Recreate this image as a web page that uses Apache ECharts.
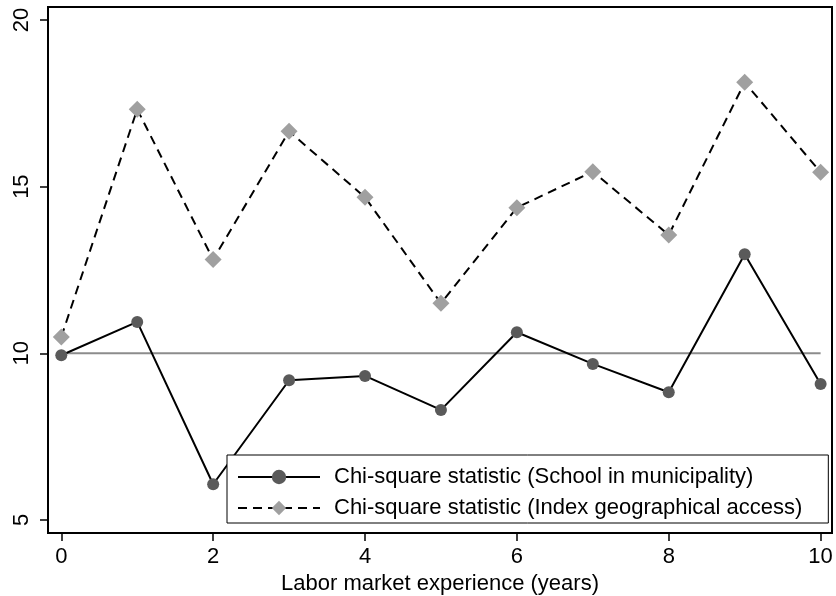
<!DOCTYPE html>
<html><head><meta charset="utf-8">
<script src="https://cdn.jsdelivr.net/npm/echarts@6/dist/echarts.min.js"></script>
<style>html,body{margin:0;padding:0;background:#fff}#c{width:836px;height:596px}</style>
</head><body><div id="c"></div>
<script>
const experience = [0,1,2,3,4,5,6,7,8,9,10];
const chiSchool = [9.94,10.94,6.07,9.19,9.32,8.30,10.63,9.68,8.83,12.97,9.08];
const chiIndex = [10.49,17.32,12.81,16.66,14.68,11.50,14.37,15.45,13.55,18.13,15.43];
const refLineY = 10;
const xTicks = [0,2,4,6,8,10];
const yTicks = [5,10,15,20];
const seriesNames = ['Chi-square statistic (School in municipality)','Chi-square statistic (Index geographical access)'];
const xTitle = 'Labor market experience (years)';

const FONT = '"Liberation Sans", Arial, sans-serif';
const chart = echarts.init(document.getElementById('c'), null, {renderer:'canvas'});
chart.setOption({
  animation:false,
  backgroundColor:'#fff',
  grid:{left:48,top:7,right:4,bottom:63,containLabel:false,outerBoundsMode:'none',
    show:true,borderColor:'#000',borderWidth:2,backgroundColor:'transparent'},
  xAxis:{type:'value',min:-0.175,max:10.15,
    name:xTitle,nameLocation:'middle',nameGap:37,
    nameTextStyle:{fontFamily:FONT,fontSize:22,color:'#000'},
    axisLine:{show:true,onZero:false,lineStyle:{color:'#000',width:2}},
    axisTick:{show:true,length:8,lineStyle:{color:'#000',width:1.5},customValues:xTicks},
    axisLabel:{fontFamily:FONT,fontSize:22,color:'#000',margin:13,customValues:xTicks},
    splitLine:{show:false}},
  yAxis:{type:'value',min:4.607,max:20.39,
    axisLine:{show:true,onZero:false,lineStyle:{color:'#000',width:2}},
    axisTick:{show:true,length:8,lineStyle:{color:'#000',width:1.5},customValues:yTicks},
    axisLabel:{fontFamily:FONT,fontSize:22,color:'#000',margin:15,rotate:90,customValues:yTicks},
    splitLine:{show:false}},
  legend:{
    data:seriesNames,
    orient:'vertical',left:227,top:455,
    backgroundColor:'#fff',borderColor:'#000',borderWidth:1,
    padding:[11,26,4,10],
    itemWidth:82,itemHeight:18,itemGap:9,
    textStyle:{fontFamily:FONT,fontSize:22,color:'#000',lineHeight:22,padding:[0,0,0,9]}
  },
  series:[
    {type:'line',name:'ref',data:[[experience[0],refLineY],[experience[experience.length-1],refLineY]],
     showSymbol:false,symbol:'none',lineStyle:{color:'#8c8c8c',width:2},silent:true,z:1},
    {type:'line',name:seriesNames[0],data:experience.map((x,i)=>[x,chiSchool[i]]),
     symbol:'circle',symbolSize:12,
     itemStyle:{color:'#5a5a5a'},lineStyle:{color:'#000',width:2},z:3},
    {type:'line',name:seriesNames[1],data:experience.map((x,i)=>[x,chiIndex[i]]),
     symbol:'diamond',symbolSize:17,
     itemStyle:{color:'#a0a0a0'},lineStyle:{color:'#000',width:2,type:[9,6]},z:2}
  ]
});
</script></body></html>
